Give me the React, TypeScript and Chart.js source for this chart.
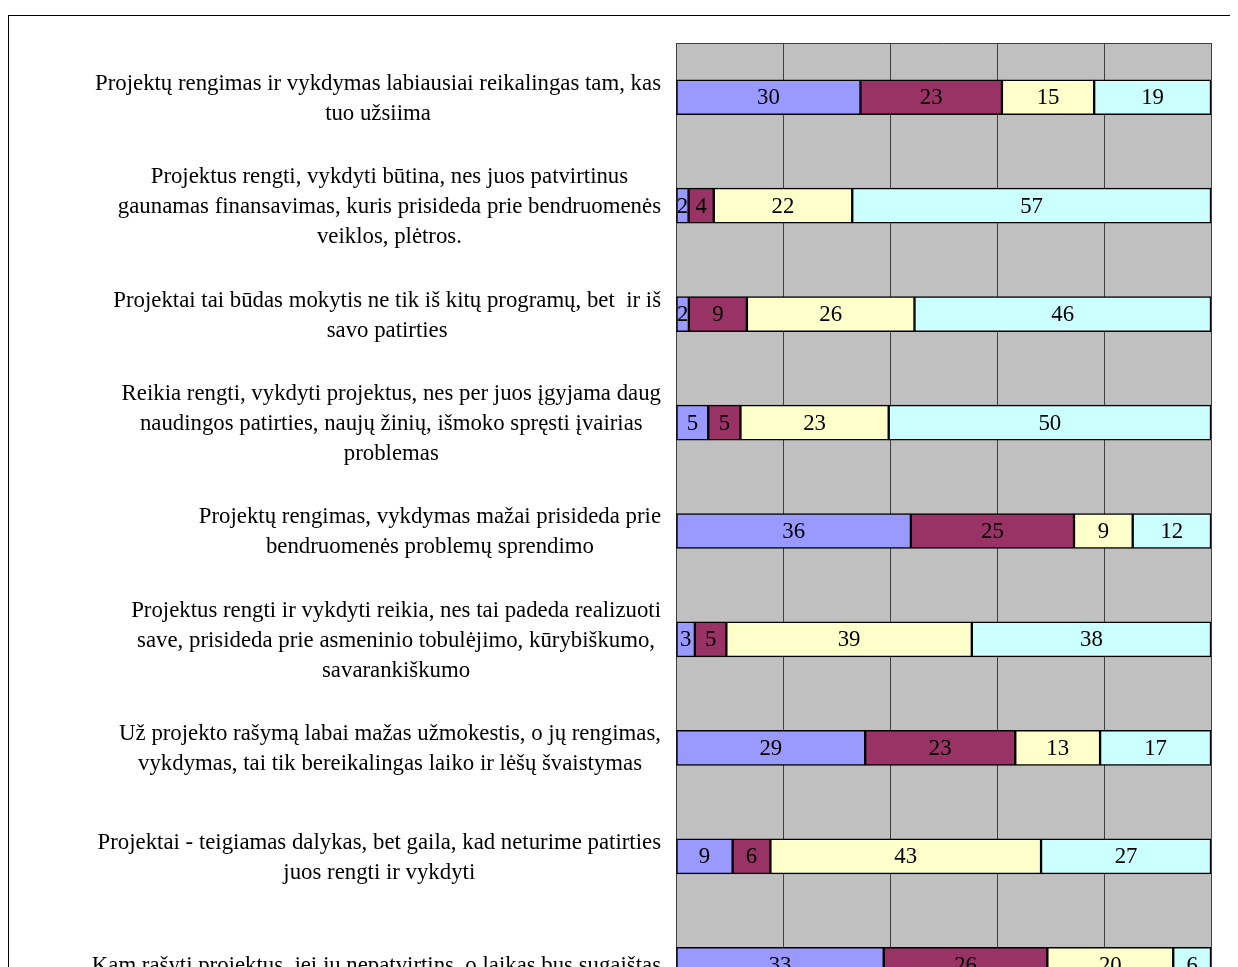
import React, { useEffect, useRef } from "react";
import { Chart, registerables } from "chart.js";

Chart.register(...registerables);

const categories: string[][] = [
  ["Projektų rengimas ir vykdymas labiausiai reikalingas tam, kas", "tuo užsiima"],
  [
    "Projektus rengti, vykdyti būtina, nes juos patvirtinus",
    "gaunamas finansavimas, kuris prisideda prie bendruomenės",
    "veiklos, plėtros.",
  ],
  ["Projektai tai būdas mokytis ne tik iš kitų programų, bet  ir iš", "savo patirties"],
  [
    "Reikia rengti, vykdyti projektus, nes per juos įgyjama daug",
    "naudingos patirties, naujų žinių, išmoko spręsti įvairias",
    "problemas",
  ],
  ["Projektų rengimas, vykdymas mažai prisideda prie", "bendruomenės problemų sprendimo"],
  [
    "Projektus rengti ir vykdyti reikia, nes tai padeda realizuoti",
    "save, prisideda prie asmeninio tobulėjimo, kūrybiškumo,",
    "savarankiškumo",
  ],
  [
    "Už projekto rašymą labai mažas užmokestis, o jų rengimas,",
    "vykdymas, tai tik bereikalingas laiko ir lėšų švaistymas",
  ],
  ["Projektai - teigiamas dalykas, bet gaila, kad neturime patirties", "juos rengti ir vykdyti"],
  ["Kam rašyti projektus, jei jų nepatvirtins, o laikas bus sugaištas"],
];

const seriesNames = ["Serija 1", "Serija 2", "Serija 3", "Serija 4"];
const series1 = [30, 2, 2, 5, 36, 3, 29, 9, 33];
const series2 = [23, 4, 9, 5, 25, 5, 23, 6, 26];
const series3 = [15, 22, 26, 23, 9, 39, 13, 43, 20];
const series4 = [19, 57, 46, 50, 12, 38, 17, 27, 6];
const seriesColors = ["#9999FF", "#993366", "#FFFFCC", "#CCFFFF"];
const xTickValues = [0, 20, 40, 60, 80, 100];

const FONT = "'Liberation Serif', 'Times New Roman', serif";
const FONT_SIZE = 22.8;
const LINE_H = 30;

export default function App() {
  const ref = useRef<HTMLCanvasElement | null>(null);

  useEffect(() => {
    document.documentElement.style.overflow = "hidden";
    if (!ref.current) return;
    const raw = [series1, series2, series3, series4];
    const totals = categories.map((_, i) => raw.reduce((s, arr) => s + arr[i], 0));

    const plotBg = {
      id: "plotBg",
      beforeDraw(chart: any) {
        const { ctx, chartArea: a } = chart;
        ctx.save();
        ctx.fillStyle = "#C0C0C0";
        ctx.fillRect(a.left, a.top, a.right - a.left, a.bottom - a.top);
        ctx.restore();
      },
      beforeDatasetsDraw(chart: any) {
        const { ctx, chartArea: a } = chart;
        ctx.save();
        ctx.strokeStyle = "#404040";
        ctx.lineWidth = 1;
        ctx.beginPath();
        ctx.moveTo(a.left, a.top + 0.5);
        ctx.lineTo(a.right, a.top + 0.5);
        ctx.stroke();
        ctx.restore();
      },
      afterDatasetsDraw(chart: any) {
        const { ctx } = chart;
        ctx.save();
        ctx.font = `${FONT_SIZE}px ${FONT}`;
        ctx.fillStyle = "#000";
        ctx.textAlign = "center";
        ctx.textBaseline = "middle";
        chart.data.datasets.forEach((ds: any, di: number) => {
          const meta = chart.getDatasetMeta(di);
          meta.data.forEach((el: any, i: number) => {
            const cx = (el.x + el.base) / 2;
            ctx.fillText(String(raw[di][i]), cx, el.y + 1);
          });
        });
        ctx.restore();
      },
      afterDraw(chart: any) {
        const { ctx } = chart;
        const yScale = chart.scales.y;
        const right = chart.chartArea.left - 15;
        ctx.save();
        ctx.font = `${FONT_SIZE}px ${FONT}`;
        ctx.fillStyle = "#000";
        ctx.textAlign = "center";
        ctx.textBaseline = "middle";
        categories.forEach((lines, i) => {
          const cy = yScale.getPixelForValue(i) + 1.5;
          const w = Math.max(...lines.map((l) => ctx.measureText(l).width));
          const cx = right - w / 2;
          const startY = cy - ((lines.length - 1) * LINE_H) / 2;
          lines.forEach((l, k) => ctx.fillText(l, cx, startY + k * LINE_H));
        });
        ctx.restore();
      },
    };

    const chart = new Chart(ref.current, {
      type: "bar",
      data: {
        labels: categories.map((c) => c.join(" ")),
        datasets: raw.map((arr, di) => ({
          label: seriesNames[di],
          data: arr.map((v, i) => (v / totals[i]) * 100),
          backgroundColor: seriesColors[di],
          borderColor: "#000000",
          borderWidth: 1.5,
          borderSkipped: false,
          barThickness: 35,
        })),
      },
      options: {
        indexAxis: "y",
        responsive: false,
        animation: false,
        layout: { padding: { top: 27, right: 78, bottom: 57, left: 0 } },
        plugins: {
          legend: { display: false },
          tooltip: { enabled: false },
        },
        scales: {
          x: {
            stacked: true,
            min: 0,
            max: 100,
            afterBuildTicks(scale: any) {
              scale.ticks = xTickValues.map((v) => ({ value: v }));
            },
            ticks: { display: false },
            grid: { color: "#404040", lineWidth: 1, drawTicks: false },
            border: { display: false },
          },
          y: {
            stacked: true,
            ticks: { display: false },
            grid: { display: false, drawTicks: false },
            border: { display: false },
            afterFit(scale: any) {
              scale.width = 667;
            },
          },
        },
      },
      plugins: [plotBg],
    } as any);

    return () => chart.destroy();
  }, []);

  return (
    <div style={{ position: "relative", width: 1240, height: 970, overflow: "hidden" }}>
      <div
        style={{
          position: "absolute",
          left: 0,
          top: 7,
          width: 1300,
          height: 1100,
          border: "1px solid #000",
          boxSizing: "border-box",
        }}
      />
      <canvas
        ref={ref}
        width={1280}
        height={1060}
        style={{ position: "absolute", left: 1, top: 8, width: 1280, height: 1060 }}
      />
    </div>
  );
}
